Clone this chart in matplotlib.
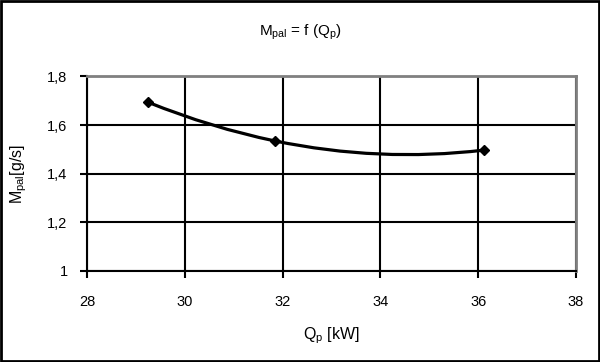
import numpy as np
import matplotlib
matplotlib.use("Agg")
from matplotlib import pyplot as plt
from matplotlib.path import Path
from matplotlib.patches import PathPatch, Rectangle

plt.rcParams['font.family'] = ['Liberation Sans', 'DejaVu Sans']
plt.rcParams['mathtext.fontset'] = 'custom'
plt.rcParams['mathtext.rm'] = 'Liberation Sans'
plt.rcParams['mathtext.it'] = 'Liberation Sans'

# data
q_p = [29.25, 31.84, 36.11]      # Qp [kW]
m_pal = [1.694, 1.535, 1.497]    # Mpal [g/s]
x_ticks = [28, 30, 32, 34, 36, 38]
y_ticks = [1.0, 1.2, 1.4, 1.6, 1.8]


def smooth_path(xs, ys):
    # parabola through the points, drawn as quadratic bezier pieces
    c = np.polyfit(xs, ys, 2)
    verts = [(xs[0], ys[0])]
    codes = [Path.MOVETO]
    for i in range(len(xs) - 1):
        xa, ya, xb = xs[i], ys[i], xs[i + 1]
        slope = 2 * c[0] * xa + c[1]
        verts += [((xa + xb) / 2, ya + slope * (xb - xa) / 2), (xb, ys[i + 1])]
        codes += [Path.CURVE3, Path.CURVE3]
    return Path(verts, codes)


fig = plt.figure(figsize=(6.0, 3.62), dpi=100)
ax = fig.add_axes([0.145, 0.2514, 0.815, 0.5373])

ax.add_patch(PathPatch(smooth_path(q_p, m_pal), fill=False, lw=2.3,
                       edgecolor='black', zorder=3))
ax.plot(q_p, m_pal, ls='none', marker='D', ms=5, color='black', zorder=4)

ax.set_xlim(28, 38)
ax.set_ylim(1.0, 1.8)
ax.set_xticks(x_ticks)
ax.set_yticks(y_ticks)
ax.set_xticklabels([str(t) for t in x_ticks])
ax.set_yticklabels(['{:g}'.format(t).replace('.', ',') for t in y_ticks])
ax.grid(True, color='black', lw=1.5)
ax.set_axisbelow(True)

for side in ['left', 'bottom']:
    ax.spines[side].set_color('black')
    ax.spines[side].set_linewidth(1.5)
for side in ['top', 'right']:
    ax.spines[side].set_color('#808080')
    ax.spines[side].set_linewidth(2)

ax.tick_params(direction='out', length=5, width=1.5, labelsize=10.5,
               colors='black')
ax.tick_params(axis='x', pad=12)
ax.tick_params(axis='y', pad=9)

ax.set_xlabel(r'Q$_{\mathrm{p}}$ [kW]', fontsize=11.5, labelpad=12)
ax.set_ylabel(r'M$_{\mathrm{pal}}$[g/s]', fontsize=11.5, labelpad=13)
fig.text(0.5, 0.912, r'M$_{\mathrm{pal}}$ = f (Q$_{\mathrm{p}}$)',
         ha='center', va='center', fontsize=11)

fig.add_artist(Rectangle((0.002, 0.003), 0.996, 0.994, transform=fig.transFigure,
                         fill=False, edgecolor='black', lw=2))

fig.savefig('out.png', dpi=100, facecolor='white')
